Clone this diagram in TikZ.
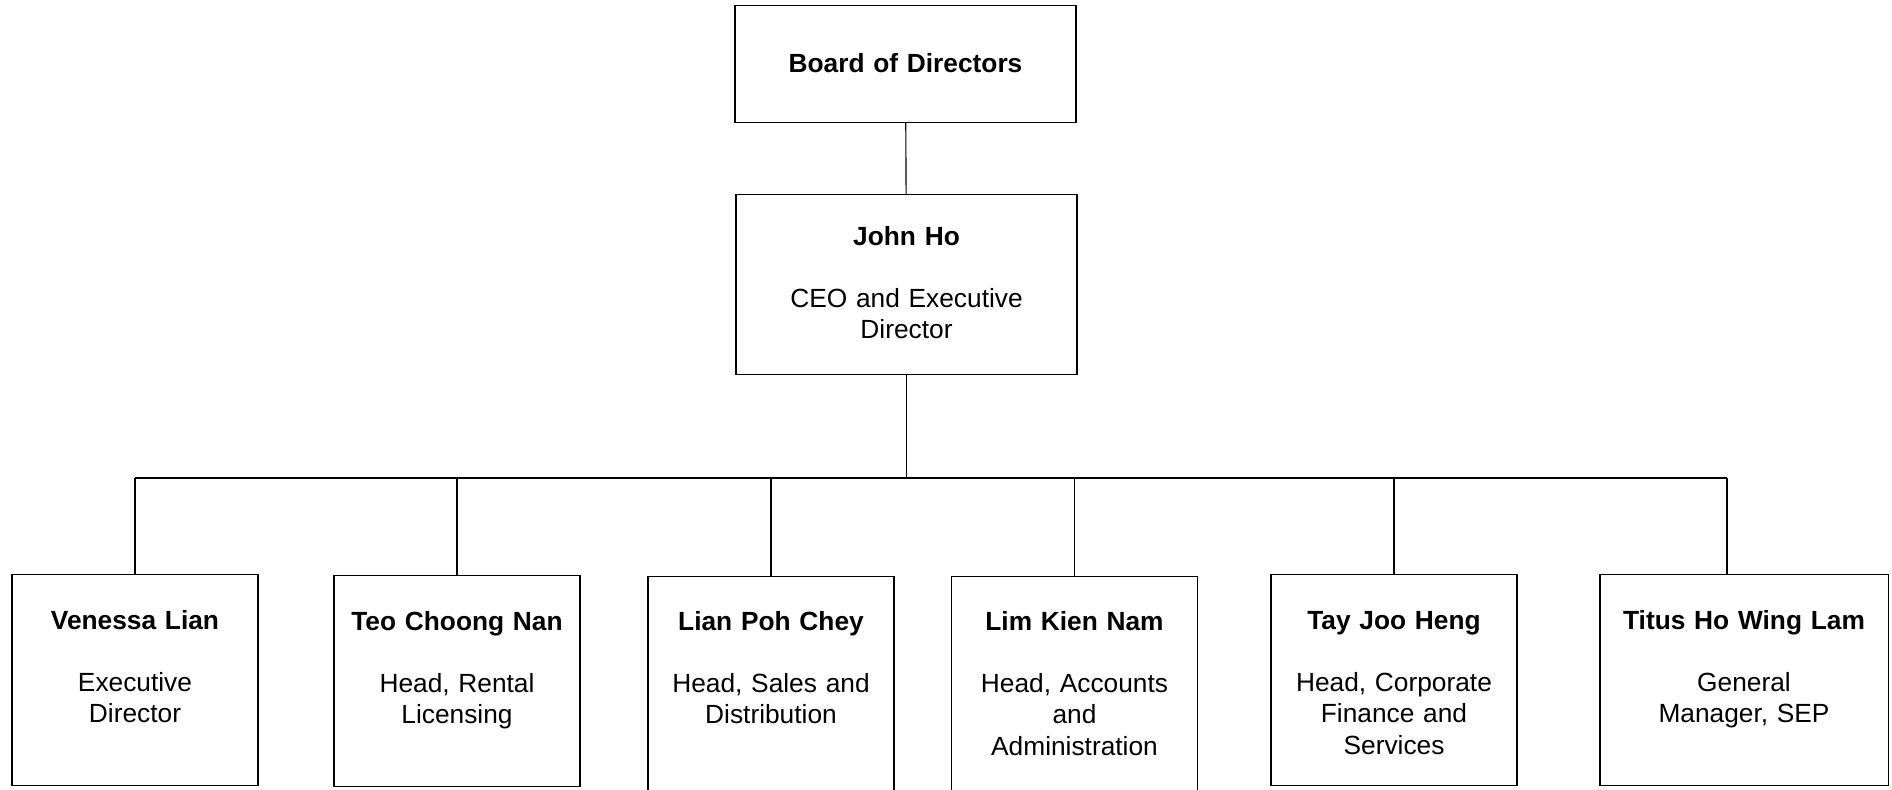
\documentclass[tikz,border=0pt]{standalone}
\usepackage{fontspec}
\setmainfont{Liberation Sans}
\usepackage{tikz}
\usetikzlibrary{positioning,calc}
\tikzstyle{vertice} = [rectangle, draw=black, line width=0.8pt, inner sep=0pt,
text width=8.525cm, align=center, anchor=north, font=\fontsize{18.7pt}{22.4pt}\selectfont]
\tikzstyle{ruolo} = [rectangle, draw=black, line width=0.8pt, inner sep=0pt,
text width=6.15cm, text height=1.375cm, text depth=3.9cm, align=center, anchor=north, font=\fontsize{18.7pt}{22.4pt}\selectfont]
\tikzstyle{linea} = [line width=0.8pt]

\begin{document}
\begin{tikzpicture}[x=0.025cm, y=-0.025cm]
						\useasboundingbox (0,0) rectangle (1892,789);
						\node (board) at (905.5,5) [vertice, text height=1.675cm, text depth=1.25cm] {\textbf{Board of Directors}};
						\node (ceo) at (906.5,194) [vertice, text height=1.275cm, text depth=3.225cm] {\textbf{John Ho}\\[21.3pt] CEO and Executive\\ Director};
						\node (venessa) at (135,574) [ruolo] {\textbf{Venessa Lian}\\[21.3pt] Executive\\ Director};
						\node (teo) at (457,575) [ruolo] {\textbf{Teo Choong Nan}\\[21.3pt] Head, Rental\\ Licensing};
						\node (lian) at (771,576) [ruolo, text height=1.35cm, text depth=4.3cm] {\textbf{Lian Poh Chey}\\[21.3pt] Head, Sales and\\ Distribution};
						\node (lim) at (1074.5,576) [ruolo, text height=1.35cm, text depth=4.3cm] {\textbf{Lim Kien Nam}\\[21.3pt] Head, Accounts\\ and\\ Administration};
						\node (tay) at (1394,574) [ruolo] {\textbf{Tay Joo Heng}\\[21.3pt] Head, Corporate\\ Finance and\\ Services};
						\node (titus) at (1744,574) [ruolo, text width=7.2cm] {\textbf{Titus Ho Wing Lam}\\[21.3pt] General\\ Manager, SEP};
						\coordinate (bus) at (906,478);
						\coordinate (titustop) at ([xshift=-0.425cm]titus.north);
						\draw[linea] (board) -- (ceo);
						\draw[linea] (ceo) -- (ceo.south |- bus);
						\draw[linea] (bus -| venessa.north) -- (bus -| titustop);
						\draw[linea] (bus -| venessa.north) -- (venessa);
						\draw[linea] (bus -| teo.north) -- (teo);
						\draw[linea] (bus -| lian.north) -- (lian);
						\draw[linea] (bus -| lim.north) -- (lim);
						\draw[linea] (bus -| tay.north) -- (tay);
						\draw[linea] (bus -| titustop) -- (titustop);
					\end{tikzpicture}
\end{document}
